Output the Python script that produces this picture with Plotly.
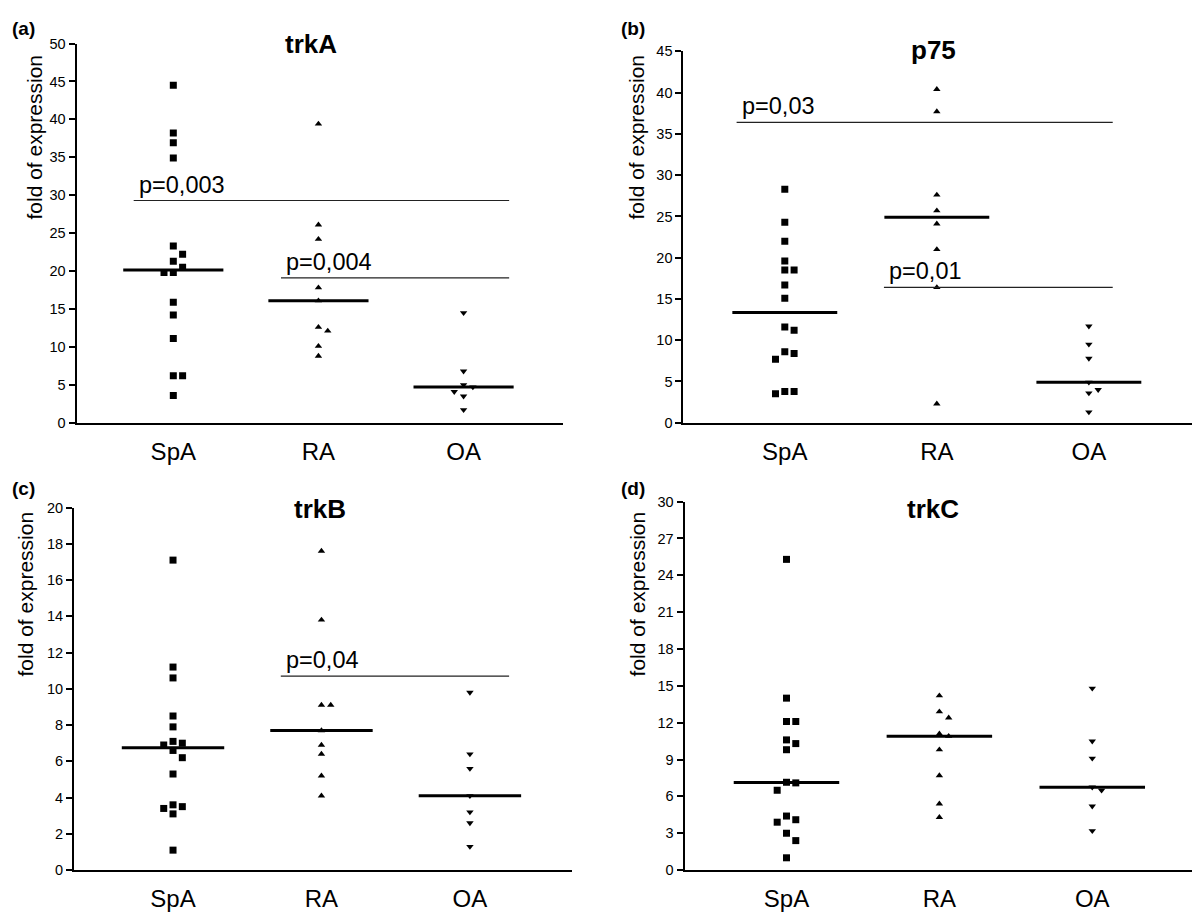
import plotly.graph_objects as go
import numpy as np

W, H = 1200, 914
groups = ["SpA", "RA", "OA"]

# ---- data (fold of expression) ----
trkA_SpA = [44.5, 38.2, 36.9, 34.9, 23.3, 22.2, 21.3, 20.5, 19.8, 19.8, 15.9, 14.2, 11.1, 6.2, 6.2, 3.6]
trkA_RA = [39.4, 26.1, 24.2, 17.8, 16.1, 12.6, 12.1, 10.1, 8.8]
trkA_OA = [14.5, 6.8, 5.0, 4.7, 4.1, 3.5, 1.7]

p75_SpA = [28.3, 24.3, 22.0, 19.6, 18.5, 18.5, 16.7, 15.1, 11.6, 11.2, 8.6, 8.4, 7.7, 3.8, 3.8, 3.5]
p75_RA = [40.4, 37.7, 27.6, 25.7, 24.1, 21.0, 16.4, 2.3]
p75_OA = [11.7, 9.5, 7.8, 4.9, 4.0, 3.6, 1.3]

trkB_SpA = [17.1, 11.2, 10.6, 8.5, 7.9, 7.1, 7.0, 6.9, 6.6, 6.2, 5.3, 3.6, 3.5, 3.4, 3.1, 1.1]
trkB_RA = [17.6, 13.8, 9.1, 9.1, 7.7, 6.9, 6.4, 5.2, 4.1]
trkB_OA = [9.8, 6.4, 5.6, 4.1, 3.2, 2.6, 1.3]

trkC_SpA = [25.3, 14.0, 12.1, 12.1, 10.6, 10.3, 9.8, 7.15, 7.1, 6.5, 4.4, 4.1, 3.9, 3.0, 2.4, 1.0]
trkC_RA = [14.2, 12.9, 12.4, 11.1, 10.9, 9.8, 7.7, 5.4, 4.3]
trkC_OA = [14.8, 10.5, 9.1, 6.75, 6.5, 5.2, 3.2]

# significance bars: level, start, end, label
sigA_levels = [29.3, 19.1]
sigA_from = [-0.273, 0.742]
sigA_to = [2.314, 2.314]
sigA_labels = ["p=0,003", "p=0,004"]

sigB_levels = [36.4, 16.4]
sigB_from = [-0.317, 0.652]
sigB_to = [2.157, 2.157]
sigB_labels = ["p=0,03", "p=0,01"]

sigC_levels = [10.7]
sigC_from = [0.726]
sigC_to = [2.264]
sigC_labels = ["p=0,04"]

titles = ["trkA", "p75", "trkB", "trkC"]
panel_tags = ["(a)", "(b)", "(c)", "(d)"]
y_max = [50, 45, 20, 30]
y_step = [5, 5, 2, 3]

# ---- layout geometry (pixels) ----
panels = [
    dict(x0=68.5, x1=555, ytop=28, ybot=414, title=(303, 28), tag=(2, 13), ytitle=(26.7, 123)),
    dict(x0=675.4, x1=1185, ytop=36, ybot=414, title=(926, 35), tag=(611, 13), ytitle=(628.7, 123)),
    dict(x0=66, x1=563.6, ytop=500.3, ybot=869.3, title=(312, 502), tag=(2, 481), ytitle=(17.8, 588)),
    dict(x0=676.5, x1=1189, ytop=494.3, ybot=869.3, title=(925, 502), tag=(611, 481), ytitle=(629.7, 588)),
]
XR = [-0.667, 2.685]

datasets = [
    [trkA_SpA, trkA_RA, trkA_OA],
    [p75_SpA, p75_RA, p75_OA],
    [trkB_SpA, trkB_RA, trkB_OA],
    [trkC_SpA, trkC_RA, trkC_OA],
]
sigs = [
    (sigA_levels, sigA_from, sigA_to, sigA_labels),
    (sigB_levels, sigB_from, sigB_to, sigB_labels),
    (sigC_levels, sigC_from, sigC_to, sigC_labels),
    ([], [], [], []),
]
symbols = ["square", "triangle-up", "triangle-down"]
sizes = [7, 6.5, 6.5]
FONT = "Liberation Sans, Arial, sans-serif"


def swarm(vals, ppu_y, ppu_x, step_px=9.3, thresh=9.0):
    order = sorted(range(len(vals)), key=lambda i: -vals[i])
    placed = []
    offs = [0.0] * len(vals)
    for i in order:
        y = vals[i] * ppu_y
        for s in [0, 1, -1, 2, -2, 3, -3]:
            if all(not (ps == s and abs(py - y) < thresh) for py, ps in placed):
                break
        placed.append((y, s))
        offs[i] = s * step_px / ppu_x
    return offs


fig = go.Figure()
annotations = []
layout_axes = {}

for k, p in enumerate(panels):
    xs = "" if k == 0 else str(k + 1)
    xa, ya = "x" + xs, "y" + xs
    ppu_x = (p["x1"] - p["x0"]) / (XR[1] - XR[0])
    ppu_y = (p["ybot"] - p["ytop"]) / y_max[k]

    for g, vals in enumerate(datasets[k]):
        offs = swarm(vals, ppu_y, ppu_x)
        fig.add_trace(go.Scatter(
            x=[g + o for o in offs], y=vals, mode="markers", xaxis=xa, yaxis=ya,
            marker=dict(symbol=symbols[g], size=sizes[g], color="black", line=dict(width=0)),
            showlegend=False, hoverinfo="y"))
        med = float(np.median(vals))
        fig.add_trace(go.Scatter(
            x=[g - 0.345, g + 0.345], y=[med, med], mode="lines", xaxis=xa, yaxis=ya,
            line=dict(color="black", width=3), showlegend=False, hoverinfo="skip"))

    lv, fr, to, lb = sigs[k]
    for j in range(len(lv)):
        fig.add_trace(go.Scatter(
            x=[fr[j], to[j]], y=[lv[j], lv[j]], mode="lines", xaxis=xa, yaxis=ya,
            line=dict(color="#222", width=1.2), showlegend=False, hoverinfo="skip"))
        annotations.append(dict(
            x=fr[j] + 0.02, y=lv[j], xref=xa, yref=ya, text=lb[j], showarrow=False,
            xanchor="left", yanchor="bottom", yshift=1,
            font=dict(family=FONT, size=23.5, color="black")))

    dom_x = [p["x0"] / W, p["x1"] / W]
    dom_y = [1 - p["ybot"] / H, 1 - p["ytop"] / H]
    layout_axes["xaxis" + xs] = dict(
        domain=dom_x, anchor=ya, range=XR, tickvals=[0, 1, 2], ticktext=groups,
        ticks="", showgrid=False, zeroline=False, showline=True, linecolor="black",
        linewidth=2, ticklabelstandoff=6,
        tickfont=dict(family=FONT, size=24, color="black"), fixedrange=True)
    layout_axes["yaxis" + xs] = dict(
        domain=dom_y, anchor=xa, range=[0, y_max[k]], dtick=y_step[k], tick0=0,
        ticks="outside", ticklen=6, tickwidth=1.5, tickcolor="black",
        showgrid=False, zeroline=False, showline=True, linecolor="black", linewidth=2,
        tickfont=dict(family=FONT, size=14.5, color="black"), fixedrange=True)

    tx, ty = p["title"]
    annotations.append(dict(x=tx / W, y=1 - ty / H, xref="paper", yref="paper",
                            text="<b>" + titles[k] + "</b>", showarrow=False,
                            xanchor="center", yanchor="middle",
                            font=dict(family=FONT, size=26, color="black")))
    gx, gy = p["tag"]
    annotations.append(dict(x=gx / W, y=1 - gy / H, xref="paper", yref="paper",
                            text="<b>" + panel_tags[k] + "</b>", showarrow=False,
                            xanchor="left", yanchor="middle",
                            font=dict(family=FONT, size=19, color="black")))
    yx, yy = p["ytitle"]
    annotations.append(dict(x=yx / W, y=1 - yy / H, xref="paper", yref="paper",
                            text="fold of expression", showarrow=False, textangle=-90,
                            xanchor="center", yanchor="middle",
                            font=dict(family=FONT, size=21, color="black")))

fig.update_layout(
    width=W, height=H, margin=dict(l=0, r=0, t=0, b=0),
    paper_bgcolor="white", plot_bgcolor="white",
    annotations=annotations, **layout_axes)

fig.write_html("out.html")
